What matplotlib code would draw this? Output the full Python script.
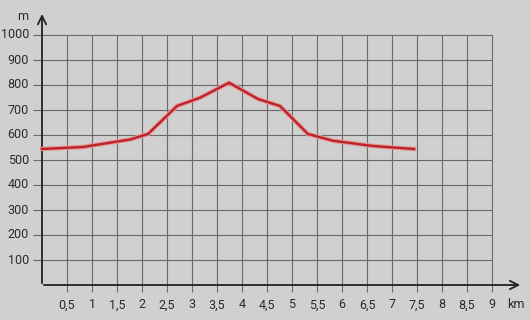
import matplotlib
matplotlib.use('Agg')
from matplotlib import pyplot as plt
import numpy as np

# elevation profile (km, m)
dist_km = [0, 0.82, 1.76, 2.12, 2.7, 3.16, 3.74, 4.32, 4.76, 5.32, 5.82, 6.62, 7.44]
height_m = [544, 552, 582, 604, 716, 749, 809, 744, 716, 604, 577, 556, 544]

x_ticks = [0.5, 1, 1.5, 2, 2.5, 3, 3.5, 4, 4.5, 5, 5.5, 6, 6.5, 7, 7.5, 8, 8.5, 9]
x_labels = ['0,5', '1', '1,5', '2', '2,5', '3', '3,5', '4', '4,5', '5',
            '5,5', '6', '6,5', '7', '7,5', '8', '8,5', '9']
y_ticks = [100, 200, 300, 400, 500, 600, 700, 800, 900, 1000]

plt.rcParams['font.family'] = ['Roboto', 'DejaVu Sans']
bg = '#d0d0d0'
fig = plt.figure(figsize=(5.3, 3.2), dpi=100, facecolor=bg)
ax = fig.add_axes([0, 0, 1, 1])
ax.set_facecolor(bg)
ax.set_xlim(-0.84, 9.76)
ax.set_ylim(-140, 1140)
ax.axis('off')

grid_c = '#6a6a6a'
# grid
ax.hlines(y_ticks, 0, 9, color=grid_c, lw=0.8, zorder=1)
ax.vlines(x_ticks, -28, 1000, color=grid_c, lw=0.8, zorder=1)
# y tick marks
ax.hlines(y_ticks, -0.18, 0, color=grid_c, lw=0.8, zorder=1)

# axes with arrows
ax.annotate('', xy=(0, 1095), xytext=(0, -4),
            arrowprops=dict(arrowstyle='->,head_length=0.6,head_width=0.3', lw=1.3, color='#222222'))
ax.annotate('', xy=(9.62, 0), xytext=(-0.02, 0),
            arrowprops=dict(arrowstyle='->,head_length=0.6,head_width=0.3', lw=1.3, color='#222222'))

# profile line with soft halo
ax.plot(dist_km, height_m, color='#e89494', lw=3.2, solid_joinstyle='round', zorder=3)
ax.plot(dist_km, height_m, color='#bb242b', lw=1.7, solid_joinstyle='round', zorder=4)

txt = '#2a2a2a'
for v in y_ticks:
    ax.text(-0.26, v, str(v), ha='right', va='center', fontsize=9, color=txt)
for v, lab in zip(x_ticks, x_labels):
    ax.text(v, -80, lab, ha='center', va='center', fontsize=9, color=txt)
ax.text(9.48, -76, 'km', ha='center', va='center', fontsize=9, color=txt)
ax.text(-0.38, 1076, 'm', ha='center', va='center', fontsize=9, color=txt)

plt.savefig('out.png', dpi=100, facecolor=bg)
plt.close()
